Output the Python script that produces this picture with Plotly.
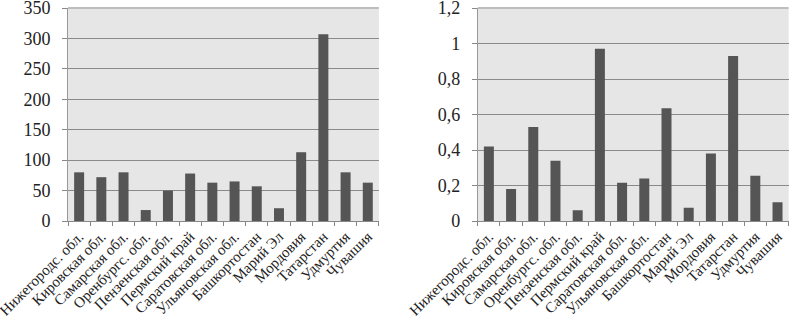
import plotly.graph_objects as go

categories = ["Нижегородс. обл.", "Кировская обл.", "Самарская обл.", "Оренбургс. обл.",
              "Пензенская обл.", "Пермский край", "Саратовская обл.", "Ульяновская обл.",
              "Башкортостан", "Марий Эл", "Мордовия", "Татарстан", "Удмуртия", "Чувашия"]
left_values = [80, 72, 80, 18, 50, 78, 63, 65, 57, 21, 113, 307, 80, 63]
right_values = [0.42, 0.18, 0.53, 0.34, 0.06, 0.97, 0.215, 0.24, 0.635, 0.075, 0.38, 0.93, 0.255, 0.105]
left_ticks = [0, 50, 100, 150, 200, 250, 300, 350]
right_ticks = [0, 0.2, 0.4, 0.6, 0.8, 1.0, 1.2]
right_tick_text = ["0", "0,2", "0,4", "0,6", "0,8", "1", "1,2"]

BAR = "#555555"
GRID = "#8a8a8a"
BG = "#e6e6e6"
FONT = "Liberation Serif"

fig = go.Figure()
fig.add_trace(go.Bar(x=categories, y=left_values, marker_color=BAR, marker_line_width=0,
                     xaxis="x", yaxis="y", showlegend=False))
fig.add_trace(go.Bar(x=categories, y=right_values, marker_color=BAR, marker_line_width=0,
                     xaxis="x2", yaxis="y2", showlegend=False))

xcommon = dict(tickangle=-45, tickfont=dict(family=FONT, size=15, color="#222"),
               showline=True, linecolor="#888", linewidth=1, ticks="outside",
               tickson="boundaries", ticklen=4, tickcolor="#888", showgrid=False,
               automargin=False, ticklabeloverflow="allow")
ycommon = dict(tickfont=dict(family=FONT, size=18, color="#222"), showline=True,
               linecolor="#999", linewidth=1, ticks="outside", ticklen=5, tickcolor="#888",
               ticklabelstandoff=8, ticklabeloverflow="allow",
               gridcolor=GRID, gridwidth=1, zeroline=False, automargin=False)

fig.update_layout(
    width=791, height=316,
    margin=dict(l=0, r=0, t=8, b=95),
    paper_bgcolor="white", plot_bgcolor=BG,
    bargap=0.55,
    separators=", ",
    xaxis=dict(domain=[0.086, 0.479], anchor="y", **xcommon),
    xaxis2=dict(domain=[0.604, 0.997], anchor="y2", **xcommon),
    yaxis=dict(domain=[0, 1], anchor="x", range=[0, 350.01], tickvals=left_ticks, **ycommon),
    yaxis2=dict(domain=[0, 1], anchor="x2", range=[0, 1.20004], tickvals=right_ticks,
                ticktext=right_tick_text, **ycommon),
    shapes=[
        dict(type="line", xref="x domain", yref="y domain", x0=0, x1=1, y0=1, y1=1,
             line=dict(color="#bdbdbd", width=2)),
        dict(type="line", xref="x2 domain", yref="y2 domain", x0=0, x1=1, y0=1, y1=1,
             line=dict(color="#bdbdbd", width=2)),
    ],
)

fig.write_html("out.html", config={"displayModeBar": False},
               post_script="document.body.style.margin='0';")
